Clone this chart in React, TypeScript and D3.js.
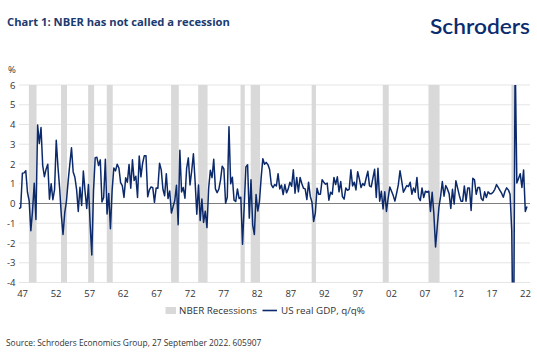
import React from "react";
import * as d3 from "d3";

// Quarterly US real GDP, q/q %, 1947Q2 .. 2022Q2
const startYear = 1947;
const startQuarter = 2;
const gdp: number[] = [
  -0.26, -0.21, 1.53,
  1.55, 1.66, 0.57, 0.14,
  -1.38, -0.36, 1.03, -0.81,
  3.97, 3.04, 3.85, 1.92,
  1.36, 1.74, 1.99, 0.22,
  1.0, 0.19, 0.7, 3.2,
  1.86, 0.77, -0.6, -1.57,
  -0.48, 0.11, 1.11, 1.98,
  2.82, 1.6, 1.33, 0.72,
  -0.4, 0.82, -0.1, 1.64,
  0.62, -0.25, 0.96, -1.04,
  -2.61, 0.64, 2.32, 2.34,
  1.92, 2.21, 0.08, 0.3,
  2.24, -0.53, 0.51, -1.28,
  0.68, 1.8, 1.65, 1.99,
  1.8, 1.06, 0.91, 0.31,
  1.3, 1.08, 1.98, 0.77,
  2.21, 1.16, 1.38, 0.31,
  2.4, 1.35, 2.04, 2.42,
  2.42, 0.34, 0.69, 0.84,
  0.8, 0.06, 0.79, 0.77,
  2.04, 1.7, 0.72, 0.39,
  1.51, 0.25, 0.63, -0.48,
  -0.16, 0.15, 0.92, -1.07,
  2.69, 0.58, 0.81, 0.27,
  1.78, 2.31, 0.94, 1.66,
  2.52, 1.11, -0.54, 0.94,
  -0.86, 0.23, -0.96, -0.39,
  -1.22, 0.77, 1.68, 1.31,
  2.24, 0.74, 0.55, 0.72,
  1.18, 1.89, 1.75, 0.01,
  0.32, 3.88, 1.0, 1.33,
  0.17, 0.1, 0.74, 0.25,
  0.32, -2.06, -0.13, 1.85,
  1.96, -0.74, 1.2, -1.09,
  -1.57, 0.45, -0.38, 0.1,
  1.3, 2.27, 1.99, 2.08,
  1.97, 1.72, 0.96, 0.81,
  0.96, 0.89, 1.51, 0.74,
  0.93, 0.45, 0.96, 0.54,
  0.74, 1.08, 0.87, 1.71,
  0.52, 1.32, 0.59, 1.32,
  1.01, 0.77, 0.74, 0.2,
  1.08, 0.37, 0.07, -0.91,
  -0.48, 0.77, 0.47, 0.47,
  1.2, 1.08, 0.98, 1.03,
  0.17, 0.57, 0.47, 1.32,
  0.96, 1.35, 0.59, 1.11,
  0.35, 0.22, 0.79, 0.67,
  0.72, 1.71, 0.89, 1.08,
  0.69, 1.61, 1.25, 0.81,
  1.01, 0.91, 1.28, 1.63,
  0.89, 0.84, 1.28, 1.73,
  0.3, 1.78, 0.12, 0.62,
  -0.28, 0.59, -0.4, 0.27,
  0.84, 0.62, 0.4, 0.12,
  0.52, 0.94, 1.66, 1.15,
  0.57, 0.74, 0.91, 0.86,
  1.08, 0.47, 0.79, 0.57,
  1.32, 0.3, 0.15, 0.79,
  0.3, 0.62, 0.57, 0.62,
  -0.4, 0.57, -0.53, -2.2,
  -1.17, -0.18, 0.37, 1.11,
  0.37, 0.91, 0.74, 0.5,
  -0.25, 0.72, -0.03, 1.15,
  0.79, 0.42, 0.12, 0.12,
  0.89, 0.12, 0.79, 0.79,
  -0.35, 1.28, 1.2, 0.47,
  0.81, 0.81, 0.25, 0.15,
  0.59, 0.3, 0.59, 0.5,
  0.5, 0.57, 0.72, 0.96,
  0.82, 0.67, 0.52, 0.32,
  0.62, 0.79, 0.69, 0.47,
  -1.4, -8.94, 7.55, 1.04,
  1.27, 1.51, 0.81, 1.7,
  -0.4, -0.15,
];

// NBER recessions [start, end] as "YYYYQn"
const recessionStarts = ["1948Q4", "1953Q3", "1957Q3", "1960Q2", "1969Q4", "1973Q4", "1980Q1", "1981Q3", "1990Q3", "2001Q1", "2007Q4", "2020Q1"];
const recessionEnds = ["1949Q4", "1954Q2", "1958Q2", "1961Q1", "1970Q4", "1975Q1", "1980Q3", "1982Q4", "1991Q1", "2001Q4", "2009Q2", "2020Q2"];

const xTickLabels = ["47", "52", "57", "62", "67", "72", "77", "82", "87", "92", "97", "02", "07", "12", "17", "22"];
const yTicks = [6, 5, 4, 3, 2, 1, 0, -1, -2, -3, -4];

const title = "Chart 1: NBER has not called a recession";
const legendRecession = "NBER Recessions";
const legendSeries = "US real GDP, q/q%";
const source = "Source: Schroders Economics Group, 27 September 2022. 605907";

const W = 537;
const H = 360;
const plotLeft = 19;
const plotRight = 530;
const plotTop = 85;
const plotBottom = 282.5;
const navy = "#0c2a6b";
const font = "'Open Sans', 'Noto Sans', sans-serif";

function qIndex(s: string): number {
  const y = +s.slice(0, 4);
  const q = +s.slice(5);
  return (y - startYear) * 4 + (q - startQuarter);
}

export default function App() {
  const x = d3.scaleLinear().domain([0, gdp.length - 1]).range([19, 527]);
  const y = d3.scaleLinear().domain([-4, 6]).range([plotBottom, plotTop]);
  const xl = d3.scalePoint<string>().domain(xTickLabels).range([22.6, 525.5]);

  const line = d3
    .line<number>()
    .x((_, i) => x(i))
    .y((d) => y(d));

  return (
    <svg
      width={W}
      height={H}
      style={{ position: "absolute", left: 0, top: 0, background: "#fff" }}
      fontFamily={font}
    >
      <defs>
        <clipPath id="plotClip">
          <rect x={plotLeft - 2} y={plotTop} width={plotRight - plotLeft + 4} height={plotBottom - plotTop} />
        </clipPath>
      </defs>
      <rect x={0} y={0} width={W} height={H} fill="#fff" />

      <text x={7} y={26} fontSize={11.2} fontWeight={700} fill="#1b3a70">
        {title}
      </text>
      <text
        x={430}
        y={34}
        fontSize={21}
        fontWeight={600}
        fill="#0b2d6f"
        textLength={100}
        lengthAdjust="spacingAndGlyphs"
        fontFamily="Lato, 'Open Sans', sans-serif"
      >
        Schroders
      </text>

      <text x={8} y={73} fontSize={9.5} fill="#333">%</text>

      {yTicks.map((t) => (
        <g key={t}>
          {t !== 0 && (
            <line x1={plotLeft} x2={plotRight} y1={y(t)} y2={y(t)} stroke="#e2e2e2" strokeWidth={0.9} />
          )}
          <text x={15.5} y={y(t) + 3.5} fontSize={9.5} fill="#333" textAnchor="end">
            {t}
          </text>
        </g>
      ))}

      {recessionStarts.map((s, k) => {
        const x0 = x(qIndex(s)) - 0.3;
        const x1 = Math.max(x(qIndex(recessionEnds[k])) + 0.6, x0 + 3);
        return <rect key={s} x={x0} y={plotTop} width={x1 - x0} height={plotBottom - plotTop} fill="#d9d9d9" />;
      })}

      <line x1={plotLeft} x2={plotRight} y1={y(0)} y2={y(0)} stroke="#7f7f7f" strokeWidth={1.2} />

      <path d={line(gdp) || ""} fill="none" stroke={navy} strokeWidth={1.5} strokeLinejoin="round" clipPath="url(#plotClip)" />

      {xTickLabels.map((l) => (
        <text key={l} x={xl(l)} y={297} fontSize={9.5} fill="#333" textAnchor="middle">
          {l}
        </text>
      ))}

      <rect x={165.5} y={307} width={10.5} height={7} fill="#d9d9d9" />
      <text x={179} y={314} fontSize={9.8} fill="#333">{legendRecession}</text>
      <line x1={262.5} x2={277} y1={310.5} y2={310.5} stroke={navy} strokeWidth={1.6} />
      <text x={281} y={314} fontSize={9.8} fill="#333">{legendSeries}</text>

      <text x={6} y={346} fontSize={8.4} fill="#333">{source}</text>
    </svg>
  );
}
